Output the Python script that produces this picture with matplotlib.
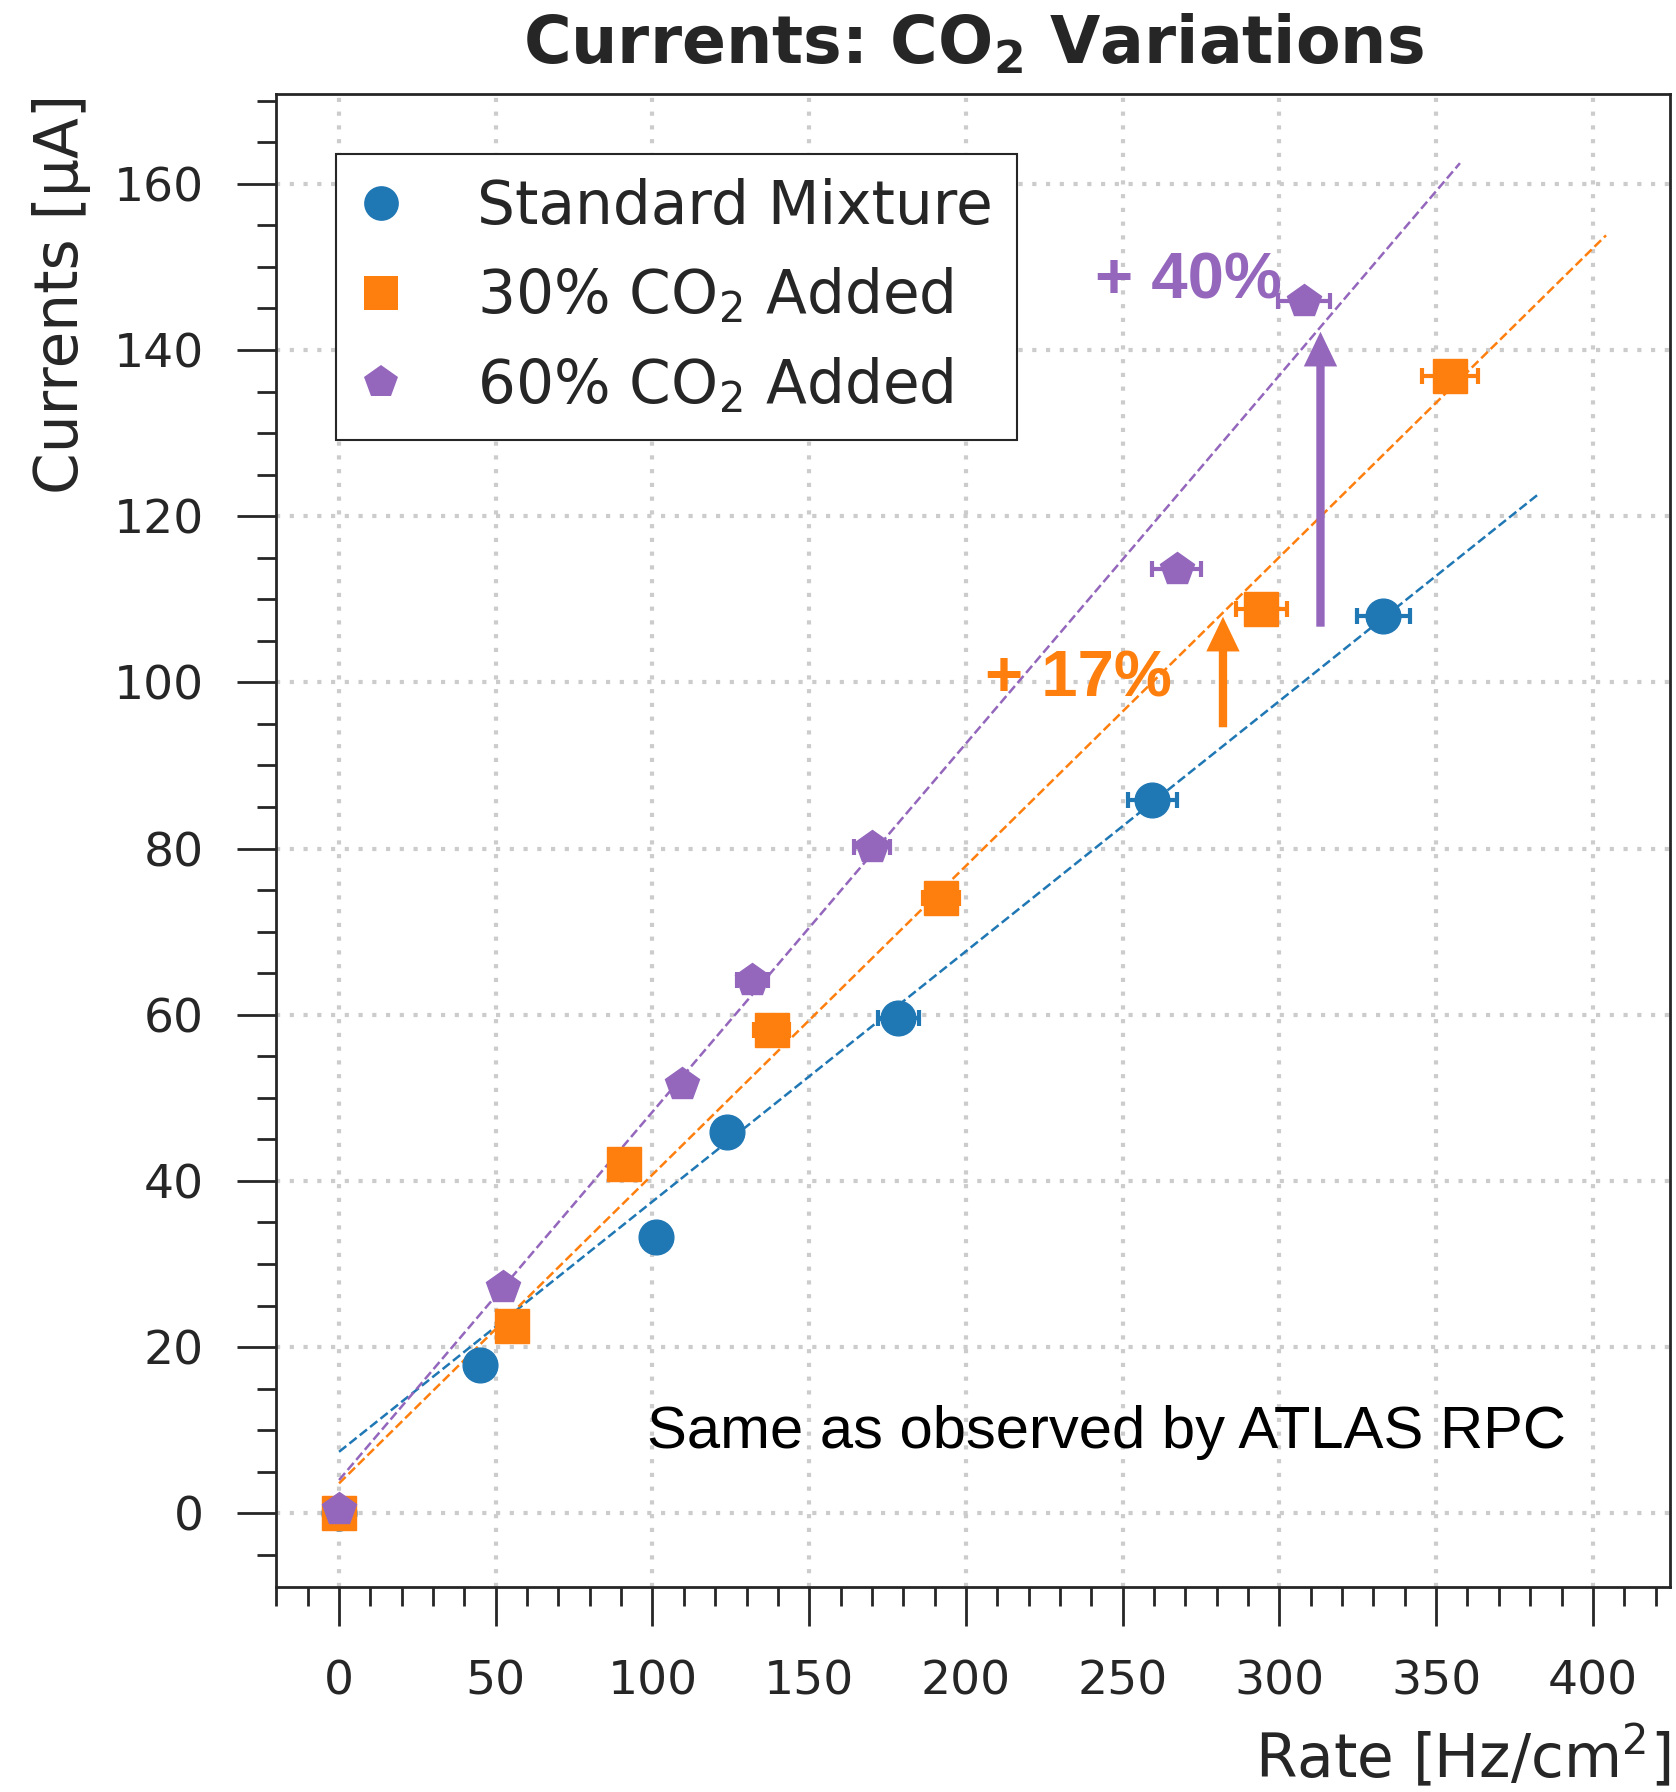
import matplotlib
matplotlib.use("Agg")
import matplotlib.pyplot as plt
from matplotlib.lines import Line2D
from matplotlib.ticker import MultipleLocator

# rate [Hz/cm2] and current [uA] for each gas mixture
labels = ["Standard Mixture", r"30% CO$_2$ Added", r"60% CO$_2$ Added"]
colors = ["#1f77b4", "#ff7f0e", "#9467bd"]
markers = ["o", "s", "p"]

rate_std = [0, 44.9, 101.1, 123.7, 178.4, 259.5, 333.2]
curr_std = [0, 17.9, 33.3, 45.9, 59.6, 85.8, 108.0]
xerr_std = [0, 1.5, 3.0, 4.0, 6.5, 7.7, 8.6]

rate_30 = [0, 55.1, 90.9, 138.0, 192.0, 294.2, 354.4]
curr_30 = [0, 22.6, 42.0, 58.2, 74.0, 108.8, 136.9]
xerr_30 = [0, 1.6, 2.6, 5.5, 5.8, 8.1, 9.0]

rate_60 = [0, 52.2, 109.5, 131.8, 170.1, 267.2, 308.0]
curr_60 = [0.5, 27.2, 51.7, 64.2, 80.2, 113.6, 145.9]
xerr_60 = [0, 1.5, 3.2, 5.0, 5.8, 7.8, 8.3]

# linear fits
fit_intercept = [7.4, 3.6, 4.0]
fit_slope = [0.3012, 0.3716, 0.4432]
fit_xmax = [383.1, 404.2, 357.6]

rates = [rate_std, rate_30, rate_60]
currs = [curr_std, curr_30, curr_60]
xerrs = [xerr_std, xerr_30, xerr_60]

dark = "#262626"
plt.rcParams["font.family"] = "DejaVu Sans"

fig = plt.figure(figsize=(16.76, 17.92), dpi=100)
ax = fig.add_axes([0.1647, 0.1144, 0.8317, 0.8331])

for i in range(3):
    ax.plot([0, fit_xmax[i]],
            [fit_intercept[i], fit_intercept[i] + fit_slope[i] * fit_xmax[i]],
            "--", color=colors[i], lw=1.8, zorder=2)

for i in range(3):
    ax.errorbar(rates[i], currs[i], xerr=xerrs[i], fmt=markers[i],
                color=colors[i], ms=25, elinewidth=3, capsize=6,
                capthick=3, zorder=3 + i)

# annotations
ax.annotate("", xy=(282.0, 107.9), xytext=(282.0, 94.6),
            arrowprops=dict(width=6, headwidth=24, headlength=25, shrink=0,
                            color=colors[1], lw=0))
ax.annotate("", xy=(313.1, 142.2), xytext=(313.1, 106.7),
            arrowprops=dict(width=6, headwidth=24, headlength=25, shrink=0,
                            color=colors[2], lw=0))
ax.text(206.2, 100.3, "+ 17%", color=colors[1], fontsize=47,
        fontweight="bold", family="Liberation Sans", va="center")
ax.text(241.2, 148.3, "+ 40%", color=colors[2], fontsize=47,
        fontweight="bold", family="Liberation Sans", va="center")
ax.text(98.3, 9.7, "Same as observed by ATLAS RPC", color="black",
        fontsize=43, family="Liberation Sans", va="center")

ax.set_xlim(-20.1, 424.6)
ax.set_ylim(-8.87, 170.8)
ax.xaxis.set_major_locator(MultipleLocator(50))
ax.xaxis.set_minor_locator(MultipleLocator(10))
ax.yaxis.set_major_locator(MultipleLocator(20))
ax.yaxis.set_minor_locator(MultipleLocator(5))

ax.tick_params(which="both", direction="out", colors=dark, width=2,
               labelsize=34, pad=24)
ax.tick_params(which="major", length=28)
ax.tick_params(which="minor", length=14)
for s in ax.spines.values():
    s.set_linewidth(2)
    s.set_color(dark)

ax.grid(which="major", color="#cccccc", lw=3, linestyle=(0, (1, 2.3)))
ax.set_axisbelow(True)

ax.set_title(r"Currents: CO$_\mathbf{2}$ Variations", fontsize=46.8,
             fontweight="bold", color=dark, pad=22)
ax.set_xlabel(r"Rate [Hz/cm$^2$]", fontsize=43, color=dark, loc="right",
              labelpad=14)
ax.set_ylabel("Currents [µA]", fontsize=43, color=dark, loc="top",
              labelpad=16)

handles = [Line2D([], [], marker=markers[i], color=colors[i], ls="none",
                  ms=25, mew=0) for i in range(3)]
leg = ax.legend(handles, labels, loc="upper left", fontsize=43,
                frameon=True, fancybox=False, framealpha=1,
                edgecolor=dark, borderpad=0.4, labelspacing=0.5,
                handlelength=0.72, handletextpad=1.25, borderaxespad=1.0)
leg.get_frame().set_linewidth(1.5)
for t in leg.get_texts():
    t.set_color(dark)

fig.savefig("out.png", dpi=100)
plt.close(fig)
